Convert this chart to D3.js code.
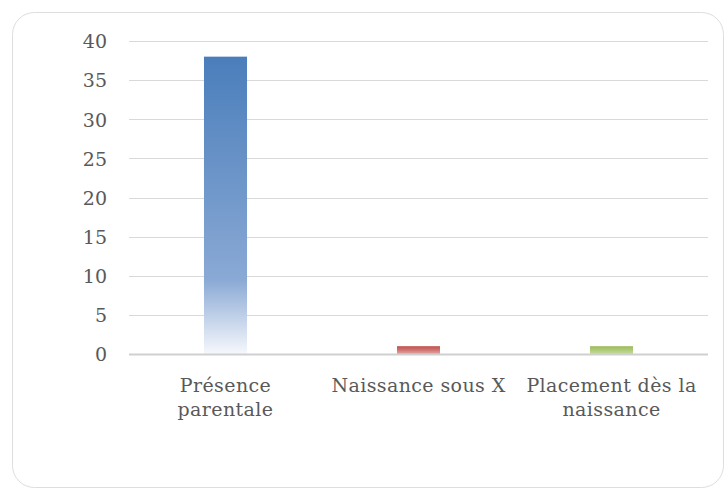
<!DOCTYPE html>
<html>
<head>
<meta charset="utf-8">
<script src="https://cdn.jsdelivr.net/npm/d3@7/dist/d3.min.js"></script>
<style>
  html, body { margin: 0; padding: 0; background: #ffffff; }
  svg { display: block; }
  .lbl { font-family: "DejaVu Serif", serif; font-size: 19px; fill: #595959; letter-spacing: 0.4px; }
  .tick-lbl { font-family: "DejaVu Serif", serif; font-size: 19px; fill: #595959; }
</style>
</head>
<body>
<svg id="chart" width="726" height="489"></svg>
<script>
// Categories and counts
const categories = ["Présence parentale", "Naissance sous X", "Placement dès la naissance"];
const categoryLines = [["Présence", "parentale"], ["Naissance sous X"], ["Placement dès la", "naissance"]];
const values = [38, 1, 1];
const yTicks = [0, 5, 10, 15, 20, 25, 30, 35, 40];

// Bar colours (top, middle, bottom of the vertical gradient)
const barColors = [
  ["#4a7ebb", "#8aa9d5", "#f6f8fc"],
  ["#c0504d", "#cf7572", "#e2a9a7"],
  ["#9bbb59", "#aecb78", "#c6dba0"]
];

const svg = d3.select("#chart");
const W = 726, H = 489;
const margin = { left: 129, right: 18, top: 41, bottom: 135 };

// Rounded chart frame
svg.append("rect")
  .attr("x", 12.5).attr("y", 12.5)
  .attr("width", 711).attr("height", 475)
  .attr("rx", 22).attr("ry", 22)
  .attr("fill", "#ffffff")
  .attr("stroke", "#dedede").attr("stroke-width", 1);

const x = d3.scaleBand()
  .domain(categories)
  .range([margin.left, W - margin.right])
  .paddingInner(0.777)
  .paddingOuter(0.3885);

const y = d3.scaleLinear()
  .domain([0, 40])
  .range([H - margin.bottom, margin.top]);

// Gradients for each bar
const defs = svg.append("defs");
barColors.forEach((c, i) => {
  const g = defs.append("linearGradient")
    .attr("id", "grad" + i)
    .attr("x1", 0).attr("y1", 0).attr("x2", 0).attr("y2", 1);
  g.append("stop").attr("offset", "0%").attr("stop-color", c[0]);
  g.append("stop").attr("offset", i === 0 ? "75%" : "50%").attr("stop-color", c[1]);
  g.append("stop").attr("offset", "100%").attr("stop-color", c[2]);
});

// Horizontal gridlines
svg.append("g")
  .selectAll("line")
  .data(yTicks.filter(t => t !== 0))
  .join("line")
  .attr("x1", margin.left).attr("x2", W - margin.right)
  .attr("y1", d => Math.round(y(d)) + 0.5).attr("y2", d => Math.round(y(d)) + 0.5)
  .attr("stroke", "#d9d9d9").attr("stroke-width", 1.2);

// Bars
svg.append("g")
  .selectAll("rect")
  .data(values)
  .join("rect")
  .attr("x", (d, i) => x(categories[i]))
  .attr("width", x.bandwidth())
  .attr("y", d => y(d))
  .attr("height", d => y(0) - y(d))
  .attr("fill", (d, i) => `url(#grad${i})`);

// Baseline
svg.append("line")
  .attr("x1", margin.left).attr("x2", W - margin.right)
  .attr("y1", y(0) + 0.5).attr("y2", y(0) + 0.5)
  .attr("stroke", "#d0d0d0").attr("stroke-width", 1.8);

// Y axis tick labels
const yAxis = d3.axisLeft(y).tickValues(yTicks).tickSize(0).tickPadding(0);
const yg = svg.append("g")
  .attr("transform", `translate(${margin.left - 22},0)`)
  .call(yAxis);
yg.select(".domain").remove();
yg.selectAll("text")
  .attr("class", "tick-lbl")
  .attr("font-family", null).attr("font-size", null)
  .attr("fill", null)
  .attr("dy", "0.36em");

// Category labels (wrapped onto lines)
const xg = svg.append("g");
categories.forEach((c, i) => {
  const cx = x(c) + x.bandwidth() / 2;
  const t = xg.append("text")
    .attr("class", "lbl")
    .attr("text-anchor", "middle")
    .attr("x", cx).attr("y", 392);
  categoryLines[i].forEach((line, j) => {
    t.append("tspan").attr("x", cx).attr("dy", j === 0 ? 0 : 24).text(line);
  });
});
</script>
</body>
</html>
